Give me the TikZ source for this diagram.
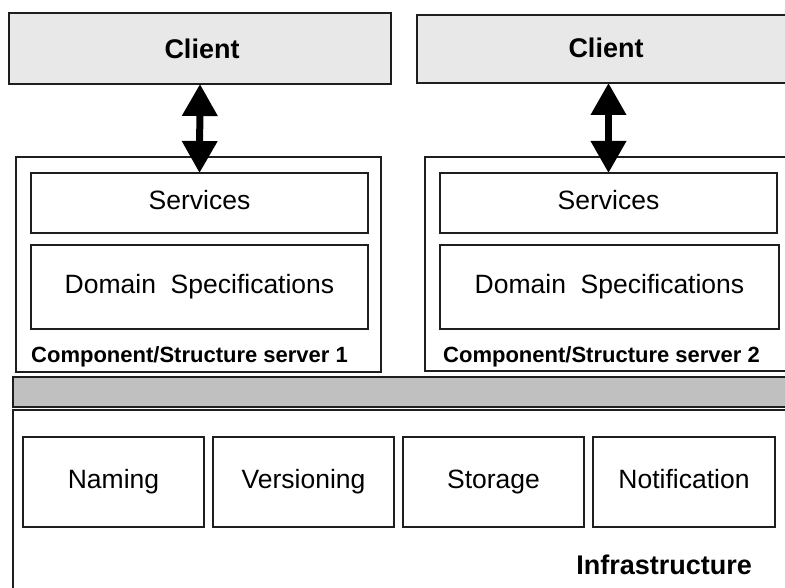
\documentclass[tikz,border=0pt]{standalone}
\usepackage{fontspec}
\setmainfont{Liberation Sans}
\usetikzlibrary{arrows.meta}
\definecolor{edge}{HTML}{1E1E1E}
\definecolor{clientfill}{HTML}{E8E8E8}
\definecolor{busfill}{HTML}{C0C0C0}
\begin{document}
\begin{tikzpicture}[x=1pt,y=-1pt,
  frame/.style={draw=edge, line width=1.7pt, inner sep=0pt, outer sep=0pt, rectangle},
  clientbox/.style={frame, fill=clientfill},
  plainbox/.style={frame, fill=white, font=\fontsize{26.5}{30}\selectfont,
    text height=19pt, text depth=6pt},
  headlabel/.style={font=\fontsize{27}{32}\selectfont\bfseries, inner sep=0pt},
  serverlabel/.style={font=\fontsize{22}{26}\selectfont\bfseries, inner sep=0pt, anchor=west},
  dblarrow/.style={line width=7pt, draw=black,
    {Triangle[width=34pt,length=32pt]}-{Triangle[width=34pt,length=32pt]}}]
\useasboundingbox (0,0) rectangle (785,588);
\clip (0,0) rectangle (785,588);
\fill[white] (0,0) rectangle (785,588);

% clients
\node[clientbox, minimum width=382pt, minimum height=71pt] (client1) at (200,48.5) {};
\node[headlabel] (client1label) at (202,49) {Client};
\node[clientbox, minimum width=388pt, minimum height=68pt] (client2) at (611,49) {};
\node[headlabel] (client2label) at (606,48) {Client};

% component/structure servers
\node[frame, fill=white, minimum width=365pt, minimum height=215pt] (server1) at (198.5,264.5) {};
\node[frame, fill=white, minimum width=375pt, minimum height=214pt] (server2) at (612.5,264) {};
\node[plainbox, minimum width=337pt, minimum height=60pt] (services1) at (199.5,203) {Services};
\node[plainbox, minimum width=337pt, minimum height=84pt] (domain1) at (199.5,287) {Domain\ \ Specifications};
\node[plainbox, minimum width=337pt, minimum height=60pt] (services2) at (608.5,203) {Services};
\node[plainbox, minimum width=339pt, minimum height=84pt] (domain2) at (609.5,287) {Domain\ \ Specifications};
\node[serverlabel] (server1label) at (31,357) {Component/Structure server 1};
\node[serverlabel] (server2label) at (443,357) {Component/Structure server 2};

% client/server links
\draw[dblarrow] (client1.south) -- (services1.north);
\draw[dblarrow] (client2.south -| services2.north) -- (services2.north);

% bus and infrastructure
\node[frame, fill=busfill, minimum width=792pt, minimum height=30pt] (bus) at (409,392) {};
\node[frame, fill=white, minimum width=792pt, minimum height=190pt] (infra) at (409,505) {};
\node[plainbox, minimum width=181pt, minimum height=90pt] (naming) at (113.5,482) {Naming};
\node[plainbox, minimum width=181pt, minimum height=90pt] (versioning) at (303.5,482) {Versioning};
\node[plainbox, minimum width=181pt, minimum height=90pt] (storage) at (493.5,482) {Storage};
\node[plainbox, minimum width=182pt, minimum height=90pt] (notification) at (684,482) {Notification};
\node[headlabel, anchor=east] (infralabel) at (752,565) {Infrastructure};
\end{tikzpicture}
\end{document}
